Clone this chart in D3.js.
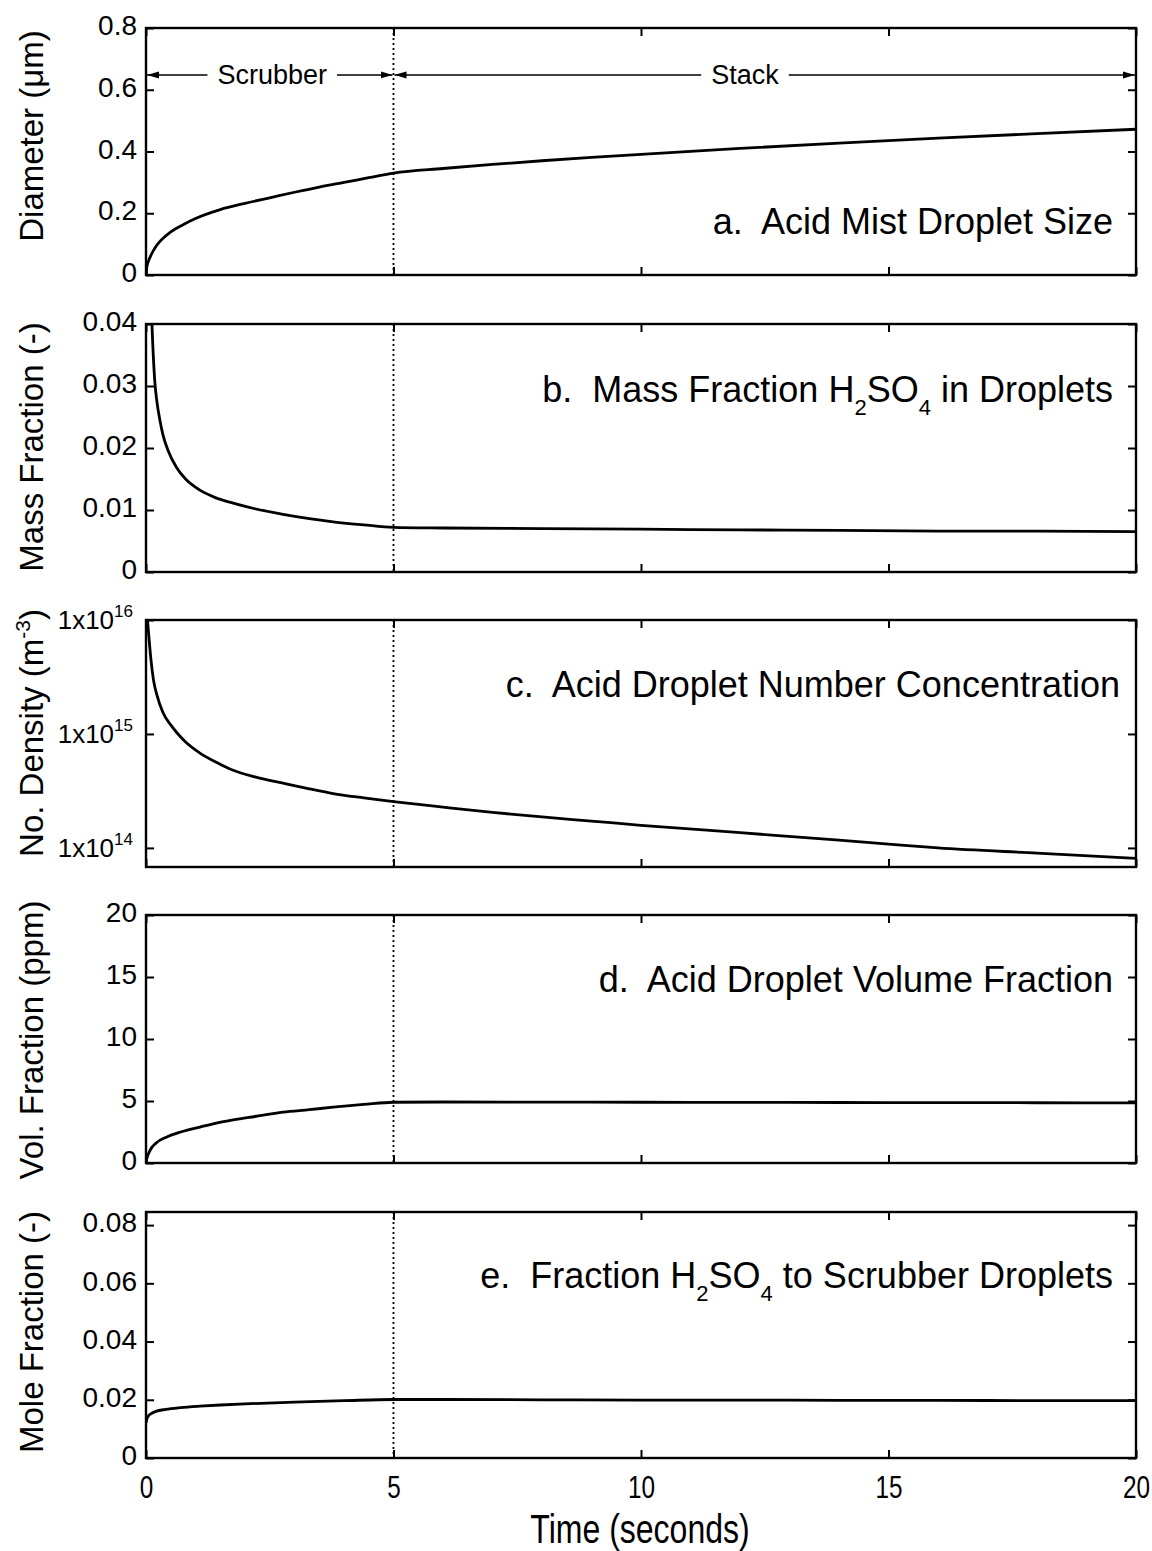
<!DOCTYPE html>
<html>
<head>
<meta charset="utf-8">
<script src="https://cdn.jsdelivr.net/npm/d3@7"></script>
<style>
  body { margin: 0; background: #fff; }
  svg { display: block; background: #fff; }
  text { font-family: "Liberation Sans", Arial, Helvetica, sans-serif; fill: #000; white-space: pre; }
</style>
</head>
<body>
<svg id="chart" width="1152" height="1551"></svg>
<script>
// ---- data -------------------------------------------------------------
const xTicks = [0, 5, 10, 15, 20];
const stackStart = 5;           // scrubber exit / stack entry (s)

// a. droplet diameter (um)
const diamTime  = [0, 0.02, 0.05, 0.1, 0.2, 0.3, 0.5, 0.75, 1.0, 1.5, 2.0, 2.5, 3.0, 3.5, 4.0, 4.5, 5.0, 6, 7, 8, 9, 10, 12, 14, 16, 18, 20];
const diamValue = [0, 0.028, 0.045, 0.064, 0.092, 0.112, 0.14, 0.163, 0.183, 0.212, 0.232, 0.25, 0.268, 0.285, 0.300, 0.315, 0.330, 0.345, 0.358, 0.370, 0.381, 0.391, 0.410, 0.427, 0.443, 0.458, 0.472];
const diamTicks = [0, 0.2, 0.4, 0.6, 0.8];

// b. mass fraction of H2SO4 in droplets
const massTime  = [0.10, 0.12, 0.15, 0.18, 0.22, 0.28, 0.34, 0.45, 0.62, 0.8, 1.09, 1.4, 1.76, 2.2, 2.77, 3.3, 3.78, 4.4, 5.0, 6, 8, 10, 12, 14, 16, 18, 20];
const massValue = [0.045, 0.040, 0.0345, 0.0305, 0.0275, 0.0245, 0.0222, 0.0195, 0.0168, 0.0150, 0.0132, 0.0120, 0.0111, 0.0102, 0.0093, 0.0086, 0.0081, 0.0076, 0.0072, 0.0071, 0.0070, 0.0069, 0.0068, 0.0067, 0.0066, 0.0066, 0.0065];
const massTicks = [0, 0.01, 0.02, 0.03, 0.04];

// c. droplet number density (m^-3)
const numTime  = [0.03, 0.06, 0.1, 0.15, 0.22, 0.34, 0.5, 0.62, 0.8, 1.09, 1.4, 1.76, 2.2, 2.77, 3.3, 3.78, 4.4, 5.0, 6, 7, 8, 9, 10, 12, 14, 15, 16, 18, 20];
const numValue = [1.0e16, 7.0e15, 4.5e15, 3.0e15, 2.2e15, 1.55e15, 1.2e15, 1.03e15, 8.5e14, 6.8e14, 5.7e14, 4.8e14, 4.2e14, 3.7e14, 3.3e14, 3.0e14, 2.75e14, 2.55e14, 2.28e14, 2.05e14, 1.87e14, 1.72e14, 1.58e14, 1.36e14, 1.17e14, 1.08e14, 1.0e14, 0.9e14, 0.81e14];
const numTicks = [1e14, 1e15, 1e16];

// d. droplet volume fraction (ppm)
const volTime  = [0, 0.02, 0.05, 0.1, 0.2, 0.42, 0.7, 1.09, 1.4, 1.76, 2.2, 2.77, 3.3, 3.78, 4.4, 5.0, 6, 8, 10, 12, 14, 16, 18, 20];
const volValue = [0, 0.4, 0.75, 1.15, 1.6, 2.1, 2.5, 2.9, 3.2, 3.47, 3.75, 4.1, 4.3, 4.5, 4.72, 4.9, 4.92, 4.91, 4.9, 4.89, 4.88, 4.87, 4.86, 4.85];
const volTicks = [0, 5, 10, 15, 20];

// e. mole fraction of H2SO4 transferred to scrubber droplets
const moleTime  = [0, 0.02, 0.05, 0.1, 0.2, 0.4, 0.7, 1.09, 1.5, 2.0, 3.0, 4.0, 5.0, 6, 8, 10, 12, 14, 16, 18, 20];
const moleValue = [0.012, 0.0135, 0.0145, 0.0152, 0.0160, 0.0167, 0.0173, 0.0178, 0.0182, 0.0186, 0.0192, 0.0197, 0.0201, 0.0201, 0.0200, 0.0199, 0.0199, 0.0198, 0.0198, 0.0197, 0.0197];
const moleTicks = [0, 0.02, 0.04, 0.06, 0.08];

// ---- layout -----------------------------------------------------------
const svg = d3.select("#chart");
const left = 146, right = 1136;
const x = d3.scaleLinear().domain([0, 20]).range([left, right]);

const panels = [
  { top: 28,   bottom: 275,  log: false, domain: [0, 0.8],     ticks: diamTicks, fmt: d => d === 0 ? "0" : d3.format(".1f")(d),
    t: diamTime, v: diamValue, titleY: 136,
    title: [["Diameter (μm)"]],
    label: [["a.  Acid Mist Droplet Size"]], labelY: 234, labelX: 1113 },
  { top: 324,  bottom: 572,  log: false, domain: [0, 0.04],    ticks: massTicks, fmt: d => d === 0 ? "0" : d3.format(".2f")(d),
    t: massTime, v: massValue, titleY: 447,
    title: [["Mass Fraction (-)"]],
    label: [["b.  Mass Fraction H"], ["2", "sub"], ["SO"], ["4", "sub"], [" in Droplets"]], labelY: 402, labelX: 1113 },
  { top: 620,  bottom: 867,  log: true,  domain: [6.8e13, 1e16], ticks: numTicks,
    t: numTime, v: numValue, titleY: 733,
    title: [["No. Density (m"], ["-3", "sup"], [")"]],
    label: [["c.  Acid Droplet Number Concentration"]], labelY: 697, labelX: 1120 },
  { top: 915,  bottom: 1163, log: false, domain: [0, 20],      ticks: volTicks, fmt: d3.format("d"),
    t: volTime, v: volValue, titleY: 1040,
    title: [["Vol. Fraction (ppm)"]],
    label: [["d.  Acid Droplet Volume Fraction"]], labelY: 992, labelX: 1113 },
  { top: 1212, bottom: 1458, log: false, domain: [0, 0.0845], ticks: moleTicks, fmt: d => d === 0 ? "0" : d3.format(".2f")(d),
    t: moleTime, v: moleValue, titleY: 1332,
    title: [["Mole Fraction (-)"]],
    label: [["e.  Fraction H"], ["2", "sub"], ["SO"], ["4", "sub"], [" to Scrubber Droplets"]], labelY: 1288, labelX: 1113 }
];

// writes a list of [text, role] runs into a <text>, handling sub/superscripts
function writeRuns(sel, runs, subSize, shift) {
  let offset = 0;
  runs.forEach(([str, role]) => {
    const ts = sel.append("tspan").text(str);
    let target = 0;
    if (role === "sub") { target = shift; ts.attr("font-size", subSize); }
    if (role === "sup") { target = -shift; ts.attr("font-size", subSize); }
    if (target !== offset) ts.attr("dy", target - offset);
    offset = target;
  });
}

// arrow marker for the scrubber / stack annotation
svg.append("defs").append("marker")
  .attr("id", "arrow")
  .attr("viewBox", "0 0 12 8")
  .attr("refX", 12).attr("refY", 4)
  .attr("markerWidth", 12).attr("markerHeight", 8)
  .attr("markerUnits", "userSpaceOnUse")
  .attr("orient", "auto-start-reverse")
  .append("path").attr("d", "M0,0.5 L12,4 L0,7.5 Z").attr("fill", "#000");

panels.forEach((p, i) => {
  const y = (p.log ? d3.scaleLog() : d3.scaleLinear()).domain(p.domain).range([p.bottom, p.top]);
  const g = svg.append("g");
  const clipId = "clip" + i;
  svg.append("clipPath").attr("id", clipId)
    .append("rect").attr("x", left).attr("y", p.top).attr("width", right - left).attr("height", p.bottom - p.top);

  // stage boundary
  g.append("line")
    .attr("x1", x(stackStart)).attr("x2", x(stackStart))
    .attr("y1", p.top).attr("y2", p.bottom)
    .attr("stroke", "#000").attr("stroke-width", 1.8).attr("stroke-dasharray", "2,3");

  // curve
  const line = d3.line().x((d, j) => x(p.t[j])).y(d => y(d)).curve(d3.curveMonotoneX);
  g.append("path").datum(p.v)
    .attr("clip-path", `url(#${clipId})`)
    .attr("d", line)
    .attr("fill", "none").attr("stroke", "#000").attr("stroke-width", 2.8).attr("stroke-linejoin", "round");

  // axes with inward ticks
  const leftAxis = d3.axisLeft(y).tickValues(p.ticks).tickSize(-8).tickSizeOuter(0).tickPadding(9);
  if (!p.log) leftAxis.tickFormat(p.fmt); else leftAxis.tickFormat(() => "");
  const la = g.append("g").attr("transform", `translate(${left},0)`).call(leftAxis);
  la.selectAll("text").attr("font-size", 28).attr("dy", "0.24em");
  if (p.log) {
    la.selectAll(".tick text").attr("dy", "0.32em").attr("x", -13).attr("font-size", 26).each(function (d) {
      const e = Math.round(Math.log10(d));
      writeRuns(d3.select(this), [["1x10"], [String(e), "sup"]], 17, 12);
    });
  }
  g.append("g").attr("transform", `translate(${right},0)`)
    .call(d3.axisRight(y).tickValues(p.ticks).tickSize(-8).tickSizeOuter(0).tickFormat(() => ""));
  g.append("g").attr("transform", `translate(0,${p.top})`)
    .call(d3.axisTop(x).tickValues(xTicks).tickSize(-8).tickSizeOuter(0).tickFormat(() => ""));
  const ba = g.append("g").attr("transform", `translate(0,${p.bottom})`)
    .call(d3.axisBottom(x).tickValues(xTicks).tickSize(-8).tickSizeOuter(0).tickPadding(17)
      .tickFormat(i === panels.length - 1 ? d3.format("d") : () => ""));
  ba.selectAll("text").attr("font-size", 32).attr("transform", "scale(0.76,1)");
  g.selectAll(".domain").remove();
  g.selectAll(".tick line").attr("stroke", "#000").attr("stroke-width", 2);

  // frame
  g.append("rect")
    .attr("x", left).attr("y", p.top).attr("width", right - left).attr("height", p.bottom - p.top)
    .attr("fill", "none").attr("stroke", "#000").attr("stroke-width", 2.4);

  // y-axis title
  const tt = g.append("text")
    .attr("transform", `translate(43,${p.titleY}) rotate(-90)`)
    .attr("text-anchor", "middle").attr("font-size", 33);
  writeRuns(tt, p.title, 21, 13);

  // panel label
  const lt = g.append("text")
    .attr("x", p.labelX).attr("y", p.labelY)
    .attr("text-anchor", "end").attr("font-size", 36);
  writeRuns(lt, p.label, 22, 13);

  // scrubber / stack annotation in the first panel
  if (i === 0) {
    const ay = y(0.648);
    const spans = [
      { name: "Scrubber", from: 0, to: stackStart, center: 2.55 },
      { name: "Stack", from: stackStart, to: 20, center: 12.1 }
    ];
    spans.forEach(s => {
      const txt = g.append("text").attr("x", x(s.center)).attr("y", ay + 9)
        .attr("text-anchor", "middle").attr("font-size", 27).text(s.name);
      const w = txt.node().getComputedTextLength();
      const gap = 10;
      g.append("line")
        .attr("x1", x(s.center) - w / 2 - gap).attr("x2", x(s.from) + 1)
        .attr("y1", ay).attr("y2", ay)
        .attr("stroke", "#000").attr("stroke-width", 1.6).attr("marker-end", "url(#arrow)");
      g.append("line")
        .attr("x1", x(s.center) + w / 2 + gap).attr("x2", x(s.to) - 1)
        .attr("y1", ay).attr("y2", ay)
        .attr("stroke", "#000").attr("stroke-width", 1.6).attr("marker-end", "url(#arrow)");
    });
  }
});

// x-axis title
svg.append("text")
  .attr("transform", `translate(640,1543) scale(0.8,1)`)
  .attr("text-anchor", "middle").attr("font-size", 40)
  .text("Time (seconds)");
</script>
</body>
</html>
